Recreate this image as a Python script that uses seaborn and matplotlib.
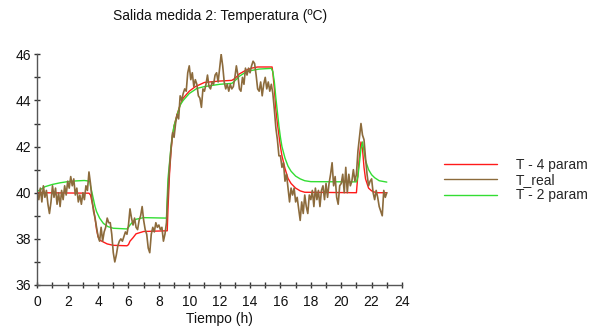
import numpy as np
import pandas as pd
import matplotlib
matplotlib.use("Agg")
import matplotlib.pyplot as plt
import seaborn as sns
from matplotlib.ticker import MultipleLocator
from matplotlib.lines import Line2D

title = "Salida medida 2: Temperatura (ºC)"
xlabel = "Tiempo (h)"
labels = ["T - 4 param", "T_real", "T - 2 param"]

# measured temperature, sampled every 0.1 h starting at t = 0
t_real_start = 0.0
t_real_step = 0.1
T_real = [
    40.0, 39.7, 40.2, 39.6, 40.3, 39.8, 40.1, 39.5, 39.1, 39.6,
    40.3, 39.8, 40.2, 39.5, 40.0, 39.4, 40.1, 39.7, 40.3, 39.9,
    40.5, 40.2, 40.7, 40.3, 40.6, 39.9, 40.2, 39.6, 39.9, 39.5,
    40.0, 39.7, 40.3, 40.1, 40.9, 40.4, 39.7, 39.2, 38.9, 38.5,
    38.1, 37.9, 38.5, 37.9, 38.3, 38.5, 38.9, 38.7, 38.7, 38.2,
    37.4, 37.0, 37.3, 37.7, 37.9, 38.0, 37.9, 38.1, 38.3, 38.2,
    38.6, 39.3, 38.9, 38.6, 38.9, 38.5, 38.4, 38.8, 39.0, 39.4,
    38.8, 38.4, 38.2, 37.6, 37.4, 38.2, 38.5, 38.3, 38.7, 38.5,
    38.6, 38.4, 38.5, 37.9, 38.2, 38.7, 40.0, 41.1, 41.9, 42.6,
    42.4, 43.0, 43.4, 43.2, 44.2, 44.0, 44.3, 44.5, 44.4, 45.2,
    45.5, 44.9, 45.2, 44.6, 44.9, 44.7, 44.2, 44.1, 43.7, 44.5,
    44.4, 44.7, 45.1, 44.6, 44.5, 44.8, 44.7, 45.1, 45.2, 44.8,
    45.4, 46.0, 45.5, 44.8, 44.5, 44.7, 44.4, 44.7, 44.5, 44.6,
    45.0, 45.5, 45.1, 44.5, 44.4, 45.0, 44.7, 45.4, 45.1, 45.4,
    45.2, 45.5, 45.7, 45.6, 45.1, 44.5, 44.4, 44.8, 44.2, 44.7,
    45.0, 44.5, 44.8, 44.4, 44.7, 44.3, 43.6, 42.8, 42.3, 41.6,
    41.6, 41.1, 41.3, 40.5, 40.8, 40.2, 39.6, 40.2, 39.9, 40.2,
    39.6, 39.8, 39.3, 38.8, 39.6, 39.1, 39.9, 39.4, 39.1, 39.9,
    39.7, 40.1, 39.4, 40.2, 39.7, 40.1, 39.4, 40.1, 40.3, 39.7,
    40.4, 39.8, 40.4, 40.8, 41.3, 40.3, 40.7, 39.8, 39.5, 40.3,
    40.4, 40.8, 40.0, 41.1, 40.0, 40.8, 40.3, 40.5, 41.0, 40.5,
    40.8, 41.8, 42.4, 43.0, 42.5, 42.3, 41.5, 40.8, 40.3, 40.5,
    40.6, 40.0, 39.7, 40.1, 39.8, 39.4, 39.2, 39.0, 40.1, 39.8,
    40.0,
]

# 4-parameter model
t_4p = [0.0, 3.4, 3.5, 3.6, 3.7, 3.8, 3.9, 4.0, 4.1, 4.3, 4.6, 5.0, 5.9,
        6.0, 6.1, 6.3, 6.5, 7.0, 8.55, 8.6, 8.7, 8.8, 8.9, 9.0, 9.2, 9.4,
        9.6, 10.0, 10.4, 11.0, 12.0, 12.8, 13.0, 13.3, 13.7, 14.1, 14.5,
        15.45, 15.5, 15.6, 15.7, 15.8, 15.9, 16.0, 16.1, 16.3, 16.5, 16.7,
        17.0, 17.3, 17.6, 21.0, 21.1, 21.2, 21.3, 21.4, 21.5, 21.6, 21.8,
        22.0, 22.3, 23.0]
T_4p = [40.0, 39.98, 39.9, 39.6, 39.3, 38.9, 38.4, 38.1, 37.95, 37.88,
        37.78, 37.72, 37.7, 37.75, 37.9, 38.05, 38.22, 38.32, 38.35, 39.3,
        40.8, 41.8, 42.5, 42.9, 43.4, 43.8, 44.1, 44.4, 44.6, 44.78, 44.84,
        44.87, 44.95, 45.15, 45.3, 45.4, 45.45, 45.45, 45.2, 44.5, 43.6,
        43.0, 42.5, 42.0, 41.6, 41.05, 40.62, 40.4, 40.2, 40.08, 40.02,
        40.0, 40.8, 41.6, 42.2, 41.9, 41.1, 40.6, 40.2, 40.08, 40.0, 40.0]

# 2-parameter model
t_2p = [0.0, 0.5, 1.0, 1.5, 2.0, 2.5, 3.1, 3.45, 3.5, 3.6, 3.7, 3.8, 3.9,
        4.1, 4.35, 4.65, 5.0, 5.9, 6.0, 6.1, 6.3, 6.5, 7.0, 8.5, 8.55, 8.6,
        8.7, 8.8, 8.9, 9.0, 9.2, 9.4, 9.6, 10.0, 10.5, 11.0, 12.0, 12.8,
        13.0, 13.3, 13.7, 14.1, 14.6, 15.4, 15.5, 15.6, 15.7, 15.8, 15.9,
        16.0, 16.1, 16.3, 16.5, 16.7, 17.0, 17.3, 17.6, 18.0, 21.0, 21.1,
        21.2, 21.3, 21.4, 21.5, 21.6, 21.8, 22.0, 22.2, 22.5, 23.0]
T_2p = [40.05, 40.26, 40.36, 40.43, 40.48, 40.51, 40.53, 40.5, 40.3, 40.0,
        39.7, 39.4, 39.18, 38.9, 38.67, 38.53, 38.46, 38.43, 38.5, 38.6,
        38.75, 38.85, 38.92, 38.9, 39.8, 40.6, 41.3, 42.0, 42.5, 42.9,
        43.35, 43.8, 44.0, 44.3, 44.52, 44.6, 44.7, 44.74, 44.85, 45.05,
        45.22, 45.3, 45.36, 45.39, 45.25, 44.8, 44.1, 43.5, 42.9, 42.4,
        42.0, 41.5, 41.15, 40.93, 40.72, 40.6, 40.52, 40.48, 40.47, 40.7,
        41.3, 41.9, 42.2, 41.8, 41.4, 41.0, 40.78, 40.65, 40.52, 40.46]

x_ticks = [0, 2, 4, 6, 8, 10, 12, 14, 16, 18, 20, 22, 24]
y_ticks = [36, 38, 40, 42, 44, 46]

c_4p = "#ff1a1a"
c_real = "#8c6b3c"
c_2p = "#33dd33"

sns.set_style("white")
plt.rcParams["font.family"] = ["Liberation Sans", "DejaVu Sans"]
plt.rcParams["font.size"] = 10

df_real = pd.DataFrame({"t": t_real_start + t_real_step * np.arange(len(T_real)),
                        "T": T_real})
df_4p = pd.DataFrame({"t": t_4p, "T": T_4p})
df_2p = pd.DataFrame({"t": t_2p, "T": T_2p})

fig = plt.figure(figsize=(5.97, 3.27), dpi=100)
ax = fig.add_axes([37.3 / 597, 1 - 285 / 327, (402 - 37.3) / 597, (285 - 54.3) / 327])

sns.lineplot(data=df_4p, x="t", y="T", ax=ax, color=c_4p, lw=1.0,
             estimator=None, sort=False)
sns.lineplot(data=df_2p, x="t", y="T", ax=ax, color=c_2p, lw=1.0,
             estimator=None, sort=False)
sns.lineplot(data=df_real, x="t", y="T", ax=ax, color=c_real, lw=1.2,
             estimator=None, sort=False)

ax.set_xlim(0, 24)
ax.set_ylim(36, 46)
ax.set_xticks(x_ticks)
ax.set_yticks(y_ticks)
ax.xaxis.set_minor_locator(MultipleLocator(1))
ax.yaxis.set_minor_locator(MultipleLocator(1))
ax.tick_params(which="both", bottom=True, left=True, top=False, right=False,
               direction="inout", length=5, width=1,
               color="#333333", labelsize=10, labelcolor="#111111", pad=2)
ax.tick_params(axis="x", which="major", pad=5)
for s in ["top", "right"]:
    ax.spines[s].set_visible(False)
for s in ["left", "bottom"]:
    ax.spines[s].set_color("#555555")
    ax.spines[s].set_linewidth(1.0)

ax.set_xlabel(xlabel, fontsize=10, color="#111111", labelpad=2)
ax.set_ylabel("")
ax.set_title(title, fontsize=10, color="#111111", pad=25)

handles = [Line2D([], [], color=c_4p, lw=1.0),
           Line2D([], [], color=c_real, lw=1.0),
           Line2D([], [], color=c_2p, lw=1.0)]
fig.legend(handles, labels, loc="center left",
           bbox_to_anchor=(444 / 597, 1 - 180 / 327), frameon=False,
           fontsize=10, handlelength=3.8, handletextpad=1.4,
           labelspacing=0.1, borderpad=0, borderaxespad=0)

fig.savefig("out.png", dpi=100)
